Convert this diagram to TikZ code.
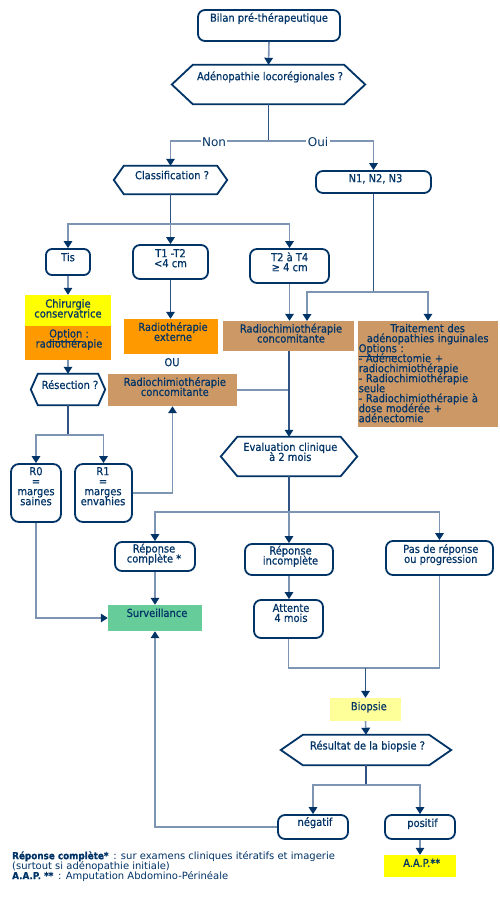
\documentclass[tikz,border=0pt]{standalone}
\usepackage{fontspec}
\setmainfont{DejaVu Sans}[FakeStretch=0.9,FakeBold=0.6]
\newfontfamily\widefont{DejaVu Sans}
\usetikzlibrary{arrows.meta,calc}
\definecolor{navy}{HTML}{003366}
\definecolor{branchc}{HTML}{7D94B3}
\definecolor{trunkc}{HTML}{2F5383}
\definecolor{tan}{HTML}{CC9966}
\definecolor{orng}{HTML}{FF9900}
\definecolor{yel}{HTML}{FFFF00}
\definecolor{paley}{HTML}{FFFF99}
\definecolor{grn}{HTML}{66CC99}
\newcommand\T{\rule{0pt}{9pt}}
\newcommand\ul[1]{\underline{#1}}
\newcommand\tightls{\lineskiplimit=-30pt\relax\lineskip=0pt\relax}
\newcommand\hexa[2]{\draw[hexline] ($(#1.north west)+(#2,0)$) -- ($(#1.north east)+(-#2,0)$) -- (#1.east) -- ($(#1.south east)+(-#2,0)$) -- ($(#1.south west)+(#2,0)$) -- (#1.west) -- cycle;}
\tikzset{
  rbox/.style={draw=navy, line width=1.8pt, rounded corners=7pt, fill=white, inner sep=0pt},
  fbox/.style={draw=none, inner sep=0pt},
  hexbox/.style={draw=none, inner sep=0pt},
  hexline/.style={draw=navy, line width=1.8pt, fill=white, line join=miter},
  txt/.style={inner sep=0pt, anchor=north, align=center, text=navy, font=\fontsize{11}{10}\selectfont\tightls},
  branch/.style={draw=branchc, line width=1.6pt},
  trunk/.style={draw=trunkc, line width=1.6pt},
  arr/.style={-{Triangle[length=7pt,width=8.5pt,color=navy]}},
  yn/.style={fill=white, inner sep=1.5pt, text=navy, font=\widefont\fontsize{12}{12}\selectfont}
}
\begin{document}
\begin{tikzpicture}[x=1pt,y=-1pt]
\useasboundingbox[fill=white] (0,0) rectangle (500,900);
% shapes
\node[rbox, minimum width=142pt, minimum height=31pt] (bilan) at (269,25.5) {};
\node[hexbox, minimum width=193pt, minimum height=39pt] (adeno) at (268.5,84.5) {};
\node[hexbox, minimum width=113pt, minimum height=28pt] (classif) at (170.5,180) {};
\node[rbox, minimum width=115pt, minimum height=22pt] (n123) at (373.5,182) {};
\node[rbox, minimum width=44pt, minimum height=26pt, rounded corners=6pt] (tis) at (68,262) {};
\node[rbox, minimum width=75pt, minimum height=34pt] (t12) at (170.5,262) {};
\node[rbox, minimum width=79pt, minimum height=34pt] (t24) at (289.5,266) {};
\node[fbox, fill=yel, minimum width=86pt, minimum height=31pt] (chir) at (68,310.5) {};
\node[fbox, fill=orng, minimum width=86pt, minimum height=34pt] (opt) at (68,343) {};
\node[fbox, fill=orng, minimum width=94pt, minimum height=35pt] (rte) at (171,336.5) {};
\node[fbox, fill=tan, minimum width=129pt, minimum height=32pt] (rcL) at (172.5,390) {};
\node[fbox, fill=tan, minimum width=131pt, minimum height=30pt] (rcR) at (288.5,336) {};
\node[fbox, fill=tan, minimum width=140pt, minimum height=106pt] (trait) at (428,374) {};
\node[hexbox, minimum width=74pt, minimum height=31pt] (resec) at (68,389.5) {};
\node[rbox, minimum width=50pt, minimum height=58pt, rounded corners=8pt] (r0) at (36,493) {};
\node[rbox, minimum width=57pt, minimum height=58pt, rounded corners=8pt] (r1) at (103.5,493) {};
\node[hexbox, minimum width=136pt, minimum height=39pt] (eval) at (289,456.5) {};
\node[rbox, minimum width=80pt, minimum height=29pt] (rc) at (155,556.5) {};
\node[rbox, minimum width=88pt, minimum height=31pt] (ri) at (289,559.5) {};
\node[rbox, minimum width=107pt, minimum height=34pt] (pr) at (439.5,558) {};
\node[fbox, fill=grn, minimum width=94pt, minimum height=26pt] (surv) at (155,618) {};
\node[rbox, minimum width=69pt, minimum height=38pt] (att) at (288.5,619) {};
\node[fbox, fill=paley, minimum width=71pt, minimum height=23pt] (bio) at (365.5,709.5) {};
\node[hexbox, minimum width=170pt, minimum height=30pt] (res) at (366,750) {};
\node[rbox, minimum width=70pt, minimum height=24pt] (neg) at (313,827) {};
\node[rbox, minimum width=70pt, minimum height=24pt] (pos) at (420,827) {};
\node[fbox, fill=yel, minimum width=72pt, minimum height=22pt] (aap) at (420,866) {};
% hexagon outlines
\hexa{adeno}{21}
\hexa{classif}{10}
\hexa{resec}{7}
\hexa{eval}{16.5}
\hexa{res}{22}
% split points
\coordinate (s1) at (268.5,141);
\coordinate (s2) at (170.5,224);
\coordinate (s3) at (373.5,292);
\coordinate (s4) at (68,435);
\coordinate (s5) at (289,512);
\coordinate (s6) at (365.5,668);
\coordinate (s7) at (366,785);
\coordinate (rcRb) at (307,321);
% connectors
\draw[branch,arr] (bilan.south) -- (adeno.north);
\draw[trunk] (adeno.south) -- (s1);
\draw[branch,arr] (s1) -| (classif.north);
\draw[branch,arr] (s1) -| (n123.north);
\node[yn] (non) at (214,142.5) {Non};
\node[yn] (oui) at (318,142.5) {Oui};
\draw[trunk] (classif.south) -- (s2);
\draw[branch,arr] (s2) -| (tis.north);
\draw[branch,arr] (s2) -- (t12.north);
\draw[branch,arr] (s2) -| (t24.north);
\draw[branch,arr] (tis.south) -- (chir.north);
\draw[trunk,arr] (t12.south) -- (t12.south |- rte.north);
\draw[branch,arr] (t24.south) -- (t24.south |- rcR.north);
\draw[trunk] (n123.south) -- (s3);
\draw[branch,arr] (s3) -| (rcRb);
\draw[branch,arr] (s3) -| (trait.north);
\draw[branch,arr] (opt.south) -- (resec.north);
\draw[trunk] (resec.south) -- (s4);
\draw[branch,arr] (s4) -| (r0.north);
\draw[branch,arr] (s4) -| (r1.north);
\draw[branch,arr] (r1.east) -| (rcL.south);
\draw[branch] (rcL.east) -- (rcL.east -| eval.north);
\draw[trunk,arr] (eval.north |- rcR.south) -- (eval.north);
\draw[trunk] (eval.south) -- (s5);
\draw[branch,arr] (s5) -| (rc.north);
\draw[branch,arr] (s5) -- (ri.north);
\draw[branch,arr] (s5) -| (pr.north);
\draw[branch,arr] (rc.south) -- (surv.north);
\draw[branch,arr] (r0.south) |- (surv.west);
\draw[branch,arr] (ri.south) -- (ri.south |- att.north);
\draw[branch] (att.south) |- (s6);
\draw[branch] (pr.south) |- (s6);
\draw[trunk,arr] (s6) -- (bio.north);
\draw[branch,arr] (bio.south) -- (res.north);
\draw[trunk] (res.south) -- (s7);
\draw[branch,arr] (s7) -| (neg.north);
\draw[branch,arr] (s7) -| (pos.north);
\draw[branch,arr] (neg.west) -| (surv.south);
\draw[branch,arr] (pos.south) -- (aap.north);
% texts
\node[txt] (bilan-t) at (269,12.5) {\T Bilan pré-thérapeutique};
\node[txt] (adeno-t) at (270,71) {\T Adénopathie locorégionales ?};
\node[txt] (classif-t) at (172,170) {\T Classification ?};
\node[txt] (n123-t) at (375.5,173) {\T N1, N2, N3};
\node[txt] (tis-t) at (68,252) {\T Tis};
\node[txt] (t12-t) at (170.5,248) {\T T1 -T2\\<4 cm};
\node[txt] (t24-t) at (289.7,252) {\T T2 à T4\\≥ 4 cm};
\node[txt] (chir-t) at (68,298.3) {\T Chirurgie\\conservatrice};
\node[txt] (opt-t) at (69,328.3) {\T \ul{Option} :\\radiothérapie};
\node[txt] (rte-t) at (173,321.7) {\T Radiothérapie\\externe};
\node[txt] (ou-t) at (172,357) {\T OU};
\node[txt] (rcR-t) at (291,323.3) {\T Radiochimiothérapie\\concomitante};
\node[txt, anchor=north west, align=left, text width=138pt] (trait-t) at (358.5,323) {\makebox[\linewidth]{\T Traitement des}\\\makebox[\linewidth]{adénopathies inguinales}\\\ul{Options} :\\- Adénectomie +\\radiochimiothérapie\\- Radiochimiothérapie\\seule\\- Radiochimiothérapie à\\dose modérée +\\adénectomie};
\node[txt] (resec-t) at (70,379.7) {\T Résection ?};
\node[txt] (rcL-t) at (174.8,376.7) {\T Radiochimiothérapie\\concomitante};
\node[txt] (eval-t) at (290.3,441.7) {\T Evaluation clinique\\à 2 mois};
\node[txt] (r0-t) at (36,466) {\T R0\\=\\marges\\saines};
\node[txt] (r1-t) at (103,466) {\T R1\\=\\marges\\envahies};
\node[txt] (rc-t) at (154,543.3) {\T Réponse\\complète *};
\node[txt] (ri-t) at (290.5,545.3) {\T Réponse\\incomplète};
\node[txt] (pr-t) at (440.8,543.7) {\T Pas de réponse\\ou progression};
\node[txt] (surv-t) at (157,607.7) {\T Surveillance};
\node[txt] (att-t) at (291,602.7) {\T Attente\\4 mois};
\node[txt] (bio-t) at (368.8,701) {\T Biopsie};
\node[txt] (res-t) at (367.5,740.3) {\T Résultat de la biopsie ?};
\node[txt] (neg-t) at (315,816.7) {\T négatif};
\node[txt] (pos-t) at (422.5,817.7) {\T positif};
\node[txt] (aap-t) at (421.7,857.7) {\T A.A.P.**};
\node[txt, anchor=north west, align=left, font=\widefont\fontsize{10}{10}\selectfont\tightls] (foot) at (12,850.5) {\rule{0pt}{8.5pt}{\rmfamily\bfseries\fontsize{9.8}{10}\selectfont Réponse complète*} \,: sur examens cliniques itératifs et imagerie\\(surtout si adénopathie initiale)\\{\rmfamily\bfseries\fontsize{9.8}{10}\selectfont A.A.P. **} \,: Amputation Abdomino-Périnéale};
\end{tikzpicture}
\end{document}
